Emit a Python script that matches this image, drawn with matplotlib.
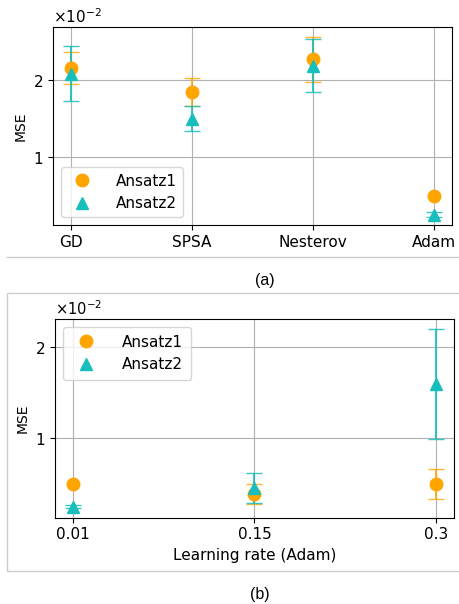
import numpy as np
import matplotlib
matplotlib.use("Agg")
import matplotlib.pyplot as plt
from matplotlib.lines import Line2D
from matplotlib.patches import Rectangle
from matplotlib.ticker import MultipleLocator

# (a) optimizer comparison, MSE values in units of 1e-2
optimizers = ["GD", "SPSA", "Nesterov", "Adam"]
a1_mse = np.array([2.16, 1.85, 2.27, 0.49]) * 1e-2
a1_err = np.array([0.205, 0.18, 0.29, np.nan]) * 1e-2   # no bar drawn for Adam
a2_mse = np.array([2.085, 1.50, 2.19, 0.256]) * 1e-2
a2_err = np.array([0.355, 0.165, 0.35, 0.03]) * 1e-2

# (b) Adam learning rates
rates = ["0.01", "0.15", "0.3"]
b1_mse = np.array([0.495, 0.385, 0.50]) * 1e-2
b1_err = np.array([np.nan, 0.11, 0.165]) * 1e-2
b2_mse = np.array([0.25, 0.45, 1.60]) * 1e-2
b2_err = np.array([0.02, 0.165, 0.605]) * 1e-2

c1 = "#FFA500"
c2 = "#17BEBB"

fig = plt.figure(figsize=(4.59, 6.04), dpi=100)

def panel(ax, cats, m1, e1, m2, e2):
    x = np.arange(len(cats))
    ax.errorbar(x, m1, yerr=e1, fmt="none", ecolor=c1, alpha=0.8,
                elinewidth=1.5, capsize=6, zorder=2)
    ax.errorbar(x, m2, yerr=e2, fmt="none", ecolor=c2, alpha=0.85,
                elinewidth=1.5, capsize=6, zorder=3)
    ax.plot(x, m1, "o", color=c1, markersize=9, label="Ansatz1", zorder=4)
    ax.plot(x, m2, "^", color=c2, markersize=9, label="Ansatz2", zorder=5)
    ax.set_xticks(x)
    ax.set_xticklabels(cats)
    ax.yaxis.set_major_locator(MultipleLocator(1e-2))
    ax.ticklabel_format(axis="y", style="sci", scilimits=(0, 0), useMathText=True)
    ax.grid(True, color="#b0b0b0", linewidth=0.8)
    ax.set_axisbelow(True)
    ax.set_ylabel("MSE", fontsize=10)

ax1 = fig.add_axes([0.1155, 0.6275, 0.8695, 0.3278])
panel(ax1, optimizers, a1_mse, a1_err, a2_mse, a2_err)
ax1.set_ylim(0.12e-2, 2.69e-2)
ax1.tick_params(labelsize=11)
ax1.yaxis.get_offset_text().set_fontsize(11)
ax1.legend(loc="lower left", fontsize=11, borderpad=0.4, handletextpad=1.2)

ax2 = fig.add_axes([0.1198, 0.1429, 0.8692, 0.3285])
panel(ax2, rates, b1_mse, b1_err, b2_mse, b2_err)
ax2.set_ylim(0.128e-2, 2.31e-2)
ax2.tick_params(labelsize=11)
ax2.yaxis.get_offset_text().set_fontsize(10.5)
ax2.set_xlabel("Learning rate (Adam)", fontsize=11)
ax2.legend(loc="upper left", fontsize=11, borderpad=0.5, handletextpad=1.4)

# sub-figure frames and captions
fig.add_artist(Line2D([0.015, 1.0], [0.5737, 0.5737], color="#cccccc", linewidth=1))
fig.add_artist(Rectangle((0.0153, 0.0551), 1.0, 0.4598, transform=fig.transFigure,
                         fill=False, edgecolor="#cccccc", linewidth=1))
fig.text(0.577, 0.535, "(a)", ha="center", va="center", fontsize=11.5,
         family="Liberation Sans")
fig.text(0.566, 0.015, "(b)", ha="center", va="center", fontsize=11.5,
         family="Liberation Sans")

fig.savefig("out.png", dpi=100)
